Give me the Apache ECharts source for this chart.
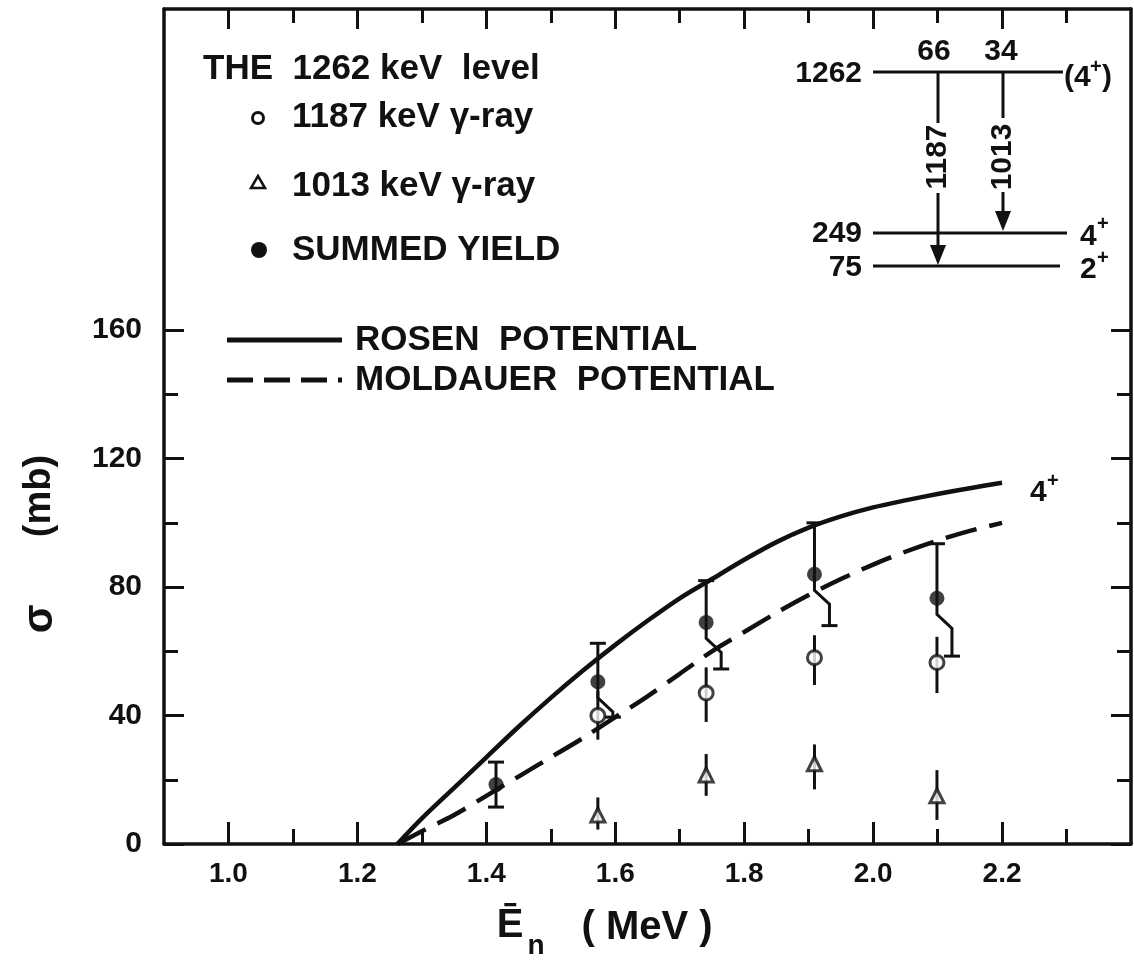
<!DOCTYPE html>
<html>
<head>
<meta charset="utf-8">
<script src="https://cdn.jsdelivr.net/npm/echarts@6/dist/echarts.min.js"></script>
<style>
  html, body { margin: 0; background: #fff; }
  #chart { width: 1134px; height: 971px; }
</style>
</head>
<body>
<div id="chart"></div>
<script>
// neutron energies of the measured points (MeV)
var energy = [1.415, 1.573, 1.741, 1.909, 2.099];

// summed yield (mb) with error limits
var summed = [18.5, 50.5, 69, 84, 76.5];
var summedHi = [25.5, 62.5, 82, 100, 93.5];
var summedLo = [11.5, 39.5, 54.5, 68, 58.5];
var summedJog = [0, 1, 1, 1, 1];

// 1187 keV gamma ray (points from the 2nd energy on)
var g1187 = [40, 47, 58, 56.5];
var g1187Hi = [47.5, 55, 65, 64.5];
var g1187Lo = [32.5, 38, 49.5, 47];

// 1013 keV gamma ray
var g1013 = [9, 21.5, 25, 15];
var g1013Hi = [14.5, 28, 31, 23];
var g1013Lo = [4.5, 15, 17, 7.5];

// calculated curves
var curveE = [1.262, 1.3, 1.35, 1.4, 1.45, 1.5, 1.55, 1.6, 1.65, 1.7, 1.75, 1.8, 1.85, 1.9, 1.95, 2.0, 2.05, 2.1, 2.15, 2.2];
var rosen = [0, 8, 17.5, 27, 36.5, 45.5, 54, 62, 69.5, 76.5, 82.5, 88.5, 94, 98.5, 102, 104.8, 107, 109, 110.8, 112.5];
var moldauer = [0, 4, 9, 15, 21, 27, 33, 39.5, 46, 53, 60, 66, 72, 77.5, 82.5, 87, 91, 94.5, 97.5, 100];

// ticks and labels
var xMajor = [1.0, 1.2, 1.4, 1.6, 1.8, 2.0, 2.2];
var xMinor = [1.1, 1.3, 1.5, 1.7, 1.9, 2.1, 2.3];
var yMajor = [0, 40, 80, 120, 160];
var yMinor = [20, 60, 100, 140];

var ink = '#111';
var fam = '"Liberation Sans", Arial, sans-serif';

function zip(xs, ys) {
  return ys.map(function (v, i) { return [xs[i], v]; });
}
function zipBars(xs, ys, lo, hi, extra) {
  return ys.map(function (v, i) { return [xs[i], v, lo[i], hi[i], extra ? extra[i] : 0]; });
}

function seg(x1, y1, x2, y2, w) {
  return { type: 'line', shape: { x1: x1, y1: y1, x2: x2, y2: y2 }, style: { stroke: ink, lineWidth: w || 3 } };
}

function summedBars(params, api) {
  var x = api.value(0);
  var p = api.coord([x, api.value(1)]);
  var lo = api.coord([x, api.value(2)]);
  var hi = api.coord([x, api.value(3)]);
  var cap = 8;
  var kids = [seg(p[0], p[1], hi[0], hi[1]), seg(hi[0] - cap, hi[1], hi[0] + cap, hi[1])];
  if (api.value(4)) {
    var dx = 15;
    kids.push({
      type: 'polyline',
      shape: { points: [[p[0], p[1]], [p[0], p[1] + 16], [p[0] + dx, p[1] + 30], [p[0] + dx, lo[1]]] },
      style: { stroke: ink, lineWidth: 3, fill: null }
    });
    kids.push(seg(p[0] + dx - cap, lo[1], p[0] + dx + cap, lo[1]));
  } else {
    kids.push(seg(p[0], p[1], lo[0], lo[1]));
    kids.push(seg(lo[0] - cap, lo[1], lo[0] + cap, lo[1]));
  }
  return { type: 'group', children: kids };
}

function plainBars(params, api) {
  var x = api.value(0);
  var lo = api.coord([x, api.value(2)]);
  var hi = api.coord([x, api.value(3)]);
  return seg(lo[0], lo[1], hi[0], hi[1]);
}

function txt(x, y, s, size, align, rot) {
  return {
    type: 'text', x: x, y: y, rotation: rot || 0, z: 10,
    style: { text: s, fill: ink, font: 'bold ' + size + 'px ' + fam, align: align || 'left', verticalAlign: 'middle' }
  };
}
function arrowHead(x, y) {
  return { type: 'polygon', shape: { points: [[x - 8, y - 20], [x + 8, y - 20], [x, y]] }, style: { fill: ink } };
}

function xAxisDef(pos, ticks, len, main) {
  return {
    type: 'value', gridIndex: 0, position: pos, min: 0.9, max: 2.4,
    axisLine: { show: main, onZero: false, lineStyle: { color: ink, width: 3.5 } },
    axisTick: { inside: true, length: len, customValues: ticks, lineStyle: { color: ink, width: 3 } },
    axisLabel: {
      show: main && pos === 'bottom', customValues: xMajor, margin: 16,
      formatter: function (v) { return v.toFixed(1); },
      color: ink, fontSize: 28, fontWeight: 'bold', fontFamily: fam
    },
    splitLine: { show: false }
  };
}
function yAxisDef(pos, ticks, len, main) {
  return {
    type: 'value', gridIndex: 0, position: pos, min: 0, max: 260,
    axisLine: { show: main, onZero: false, lineStyle: { color: ink, width: 3.5 } },
    axisTick: { inside: true, length: len, customValues: ticks, lineStyle: { color: ink, width: 3 } },
    axisLabel: {
      show: main && pos === 'left', customValues: yMajor, margin: 22,
      color: ink, fontSize: 30, fontWeight: 'bold', fontFamily: fam
    },
    splitLine: { show: false }
  };
}

var chart = echarts.init(document.getElementById('chart'));
chart.setOption({
  animation: false,
  backgroundColor: '#fff',
  grid: { left: 164, right: 3, top: 9, bottom: 127 },
  xAxis: [
    xAxisDef('bottom', xMajor, 22, true),
    xAxisDef('bottom', xMinor, 15, false),
    xAxisDef('top', xMajor, 20, true),
    xAxisDef('top', xMinor, 14, false)
  ],
  yAxis: [
    yAxisDef('left', yMajor, 20, true),
    yAxisDef('left', yMinor, 14, false),
    yAxisDef('right', yMajor, 20, true),
    yAxisDef('right', yMinor, 14, false)
  ],
  series: [
    {
      name: 'ROSEN POTENTIAL', type: 'line', data: zip(curveE, rosen),
      smooth: 0.3, showSymbol: false, z: 2,
      lineStyle: { color: ink, width: 4.5 }
    },
    {
      name: 'MOLDAUER POTENTIAL', type: 'line', data: zip(curveE, moldauer),
      smooth: 0.3, showSymbol: false, z: 2,
      lineStyle: { color: ink, width: 4.5, type: [32, 13] }
    },
    { type: 'custom', renderItem: summedBars, data: zipBars(energy, summed, summedLo, summedHi, summedJog), z: 3 },
    { type: 'custom', renderItem: plainBars, data: zipBars(energy.slice(1), g1187, g1187Lo, g1187Hi), z: 3 },
    { type: 'custom', renderItem: plainBars, data: zipBars(energy.slice(1), g1013, g1013Lo, g1013Hi), z: 3 },
    {
      name: 'SUMMED YIELD', type: 'scatter', data: zip(energy, summed), z: 5,
      symbol: 'circle', symbolSize: 15, itemStyle: { color: ink }
    },
    {
      name: '1187 keV', type: 'scatter', data: zip(energy.slice(1), g1187), z: 5,
      symbol: 'circle', symbolSize: 14, itemStyle: { color: '#fff', borderColor: ink, borderWidth: 3 }
    },
    {
      name: '1013 keV', type: 'scatter', data: zip(energy.slice(1), g1013), z: 5,
      symbol: 'triangle', symbolSize: [14, 14], itemStyle: { color: '#fff', borderColor: ink, borderWidth: 3 }
    }
  ],
  graphic: [
    // legend block
    txt(203, 69, 'THE  1262 keV  level', 35),
    { type: 'circle', shape: { cx: 258, cy: 118, r: 5.5 }, style: { fill: '#fff', stroke: ink, lineWidth: 3 } },
    txt(292, 117, '1187 keV \u03b3-ray', 35),
    { type: 'polygon', shape: { points: [[251, 188], [265, 188], [258, 176]] }, style: { fill: '#fff', stroke: ink, lineWidth: 2.5 } },
    txt(292, 186, '1013 keV \u03b3-ray', 35),
    { type: 'circle', shape: { cx: 259, cy: 250, r: 8 }, style: { fill: ink } },
    txt(292, 250, 'SUMMED YIELD', 35),
    seg(227, 340, 342, 340, 5),
    txt(355, 340, 'ROSEN  POTENTIAL', 35),
    { type: 'line', shape: { x1: 227, y1: 380, x2: 342, y2: 380 }, style: { stroke: ink, lineWidth: 5, lineDash: [26, 11] } },
    txt(355, 380, 'MOLDAUER  POTENTIAL', 35),

    // level scheme
    txt(934, 52, '66', 30, 'center'),
    txt(1001, 52, '34', 30, 'center'),
    txt(862, 74, '1262', 30, 'right'),
    seg(873, 72, 1063, 72),
    txt(1064, 78, '(4', 30),
    txt(1090, 67, '+', 20),
    txt(1102, 78, ')', 30),
    seg(938, 72, 938, 123),
    txt(938, 157, '1187', 30, 'center', Math.PI / 2),
    seg(938, 193, 938, 250),
    arrowHead(938, 265),
    seg(1003, 72, 1003, 118),
    txt(1003, 157, '1013', 30, 'center', Math.PI / 2),
    seg(1003, 192, 1003, 215),
    arrowHead(1003, 231),
    txt(862, 234, '249', 30, 'right'),
    seg(873, 233, 1067, 233),
    txt(1080, 237, '4', 30),
    txt(1097, 224, '+', 20),
    txt(862, 268, '75', 30, 'right'),
    seg(873, 266, 1060, 266),
    txt(1080, 270, '2', 30),
    txt(1097, 258, '+', 20),

    // curve tag
    txt(1030, 493, '4', 30),
    txt(1047, 481, '+', 20),

    // axis titles
    txt(40, 619, '\u03c3', 42, 'center', Math.PI / 2),
    txt(40, 496, '(mb)', 38, 'center', Math.PI / 2),
    txt(510, 926, '\u0112', 40, 'center'),
    txt(536, 946, 'n', 28, 'center'),
    txt(647, 928, '( MeV )', 40, 'center')
  ]
});
</script>
</body>
</html>
